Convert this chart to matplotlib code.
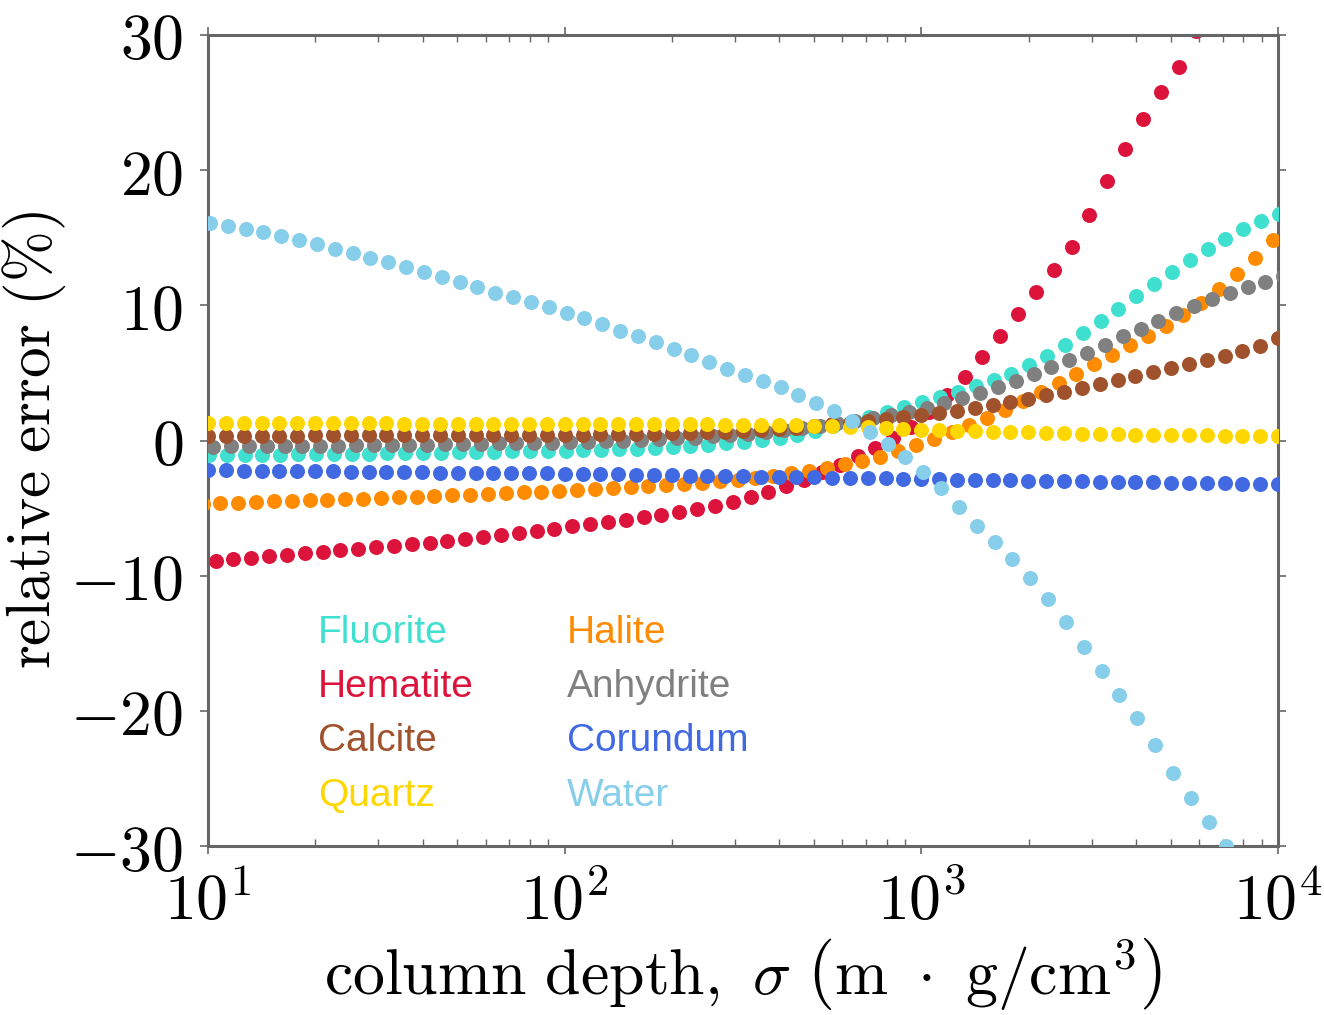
import numpy as np
import matplotlib
matplotlib.use("Agg")
import matplotlib.pyplot as plt
from matplotlib.ticker import FixedLocator, FuncFormatter, LogLocator, NullFormatter

plt.rcParams['mathtext.fontset'] = 'cm'

# Minerals in legend order, with their colours
minerals = ["Fluorite", "Hematite", "Calcite", "Quartz",
            "Halite", "Anhydrite", "Corundum", "Water"]
colors = ["turquoise", "crimson", "sienna", "gold",
          "darkorange", "gray", "royalblue", "skyblue"]

# Column depth of the first sample of each mineral (m g/cm^3);
# samples are spaced evenly in log10(sigma)
first_sigma = [10.06, 10.50, 10.0, 10.0, 9.66, 10.35, 10.0, 10.12]
log_step = 0.05

# Relative error (%) of each mineral along its column-depth samples
fluorite = [-1.10, -1.09, -1.07, -1.06, -1.05, -1.03, -1.02, -1.00, -0.99, -0.97,
            -0.95, -0.93, -0.91, -0.89, -0.88, -0.86, -0.84, -0.81, -0.79, -0.77,
            -0.75, -0.72, -0.68, -0.64, -0.60, -0.54, -0.48, -0.41, -0.32, -0.22,
            -0.10, 0.05, 0.20, 0.42, 0.70, 1.05, 1.40, 1.75, 2.10, 2.45,
            2.82, 3.20, 3.60, 4.00, 4.45, 4.95, 5.55, 6.28, 7.10, 7.95,
            8.85, 9.75, 10.68, 11.60, 12.50, 13.35, 14.18, 14.93, 15.62, 16.25, 16.75]
hematite = [-8.88, -8.78, -8.67, -8.56, -8.46, -8.35, -8.24, -8.13, -8.02, -7.91,
            -7.80, -7.68, -7.55, -7.42, -7.29, -7.15, -7.00, -6.85, -6.69, -6.52,
            -6.35, -6.18, -6.02, -5.86, -5.69, -5.51, -5.30, -5.08, -4.82, -4.52,
            -4.18, -3.80, -3.37, -2.92, -2.35, -1.78, -1.18, -0.52, 0.18, 1.00,
            2.10, 3.40, 4.70, 6.15, 7.75, 9.35, 10.95, 12.60, 14.35, 16.70,
            19.20, 21.60, 23.80, 25.80, 27.60, 30.30]
calcite = [0.35, 0.35, 0.35, 0.36, 0.36, 0.36, 0.37, 0.37, 0.37, 0.38,
           0.38, 0.38, 0.39, 0.39, 0.40, 0.40, 0.41, 0.41, 0.42, 0.42,
           0.43, 0.44, 0.45, 0.46, 0.48, 0.50, 0.53, 0.56, 0.60, 0.65,
           0.70, 0.77, 0.86, 0.96, 1.07, 1.19, 1.32, 1.46, 1.60, 1.75,
           1.90, 2.05, 2.20, 2.42, 2.65, 2.88, 3.10, 3.35, 3.60, 3.88,
           4.15, 4.45, 4.75, 5.05, 5.35, 5.65, 5.95, 6.25, 6.60, 7.00, 7.55]
quartz = [1.27, 1.27, 1.27, 1.27, 1.26, 1.26, 1.26, 1.26, 1.26, 1.26,
          1.26, 1.25, 1.25, 1.25, 1.25, 1.25, 1.25, 1.24, 1.24, 1.24,
          1.24, 1.24, 1.23, 1.23, 1.23, 1.22, 1.21, 1.20, 1.19, 1.18,
          1.17, 1.15, 1.14, 1.12, 1.09, 1.05, 1.01, 0.97, 0.92, 0.86,
          0.80, 0.76, 0.72, 0.69, 0.66, 0.63, 0.60, 0.56, 0.53, 0.50,
          0.47, 0.45, 0.43, 0.41, 0.39, 0.38, 0.37, 0.36, 0.35, 0.34, 0.33]
halite = [-4.68, -4.63, -4.59, -4.55, -4.51, -4.47, -4.43, -4.39, -4.35, -4.30,
          -4.25, -4.20, -4.15, -4.10, -4.05, -4.00, -3.95, -3.90, -3.84, -3.78,
          -3.72, -3.66, -3.60, -3.53, -3.46, -3.39, -3.31, -3.22, -3.12, -3.01,
          -2.89, -2.75, -2.60, -2.42, -2.22, -2.00, -1.75, -1.48, -1.20, -0.78,
          -0.33, 0.12, 0.60, 1.15, 1.65, 2.25, 2.90, 3.60, 4.25, 4.95,
          5.65, 6.35, 7.05, 7.75, 8.50, 9.30, 10.20, 11.20, 12.30, 13.50, 14.80]
anhydrite = [-0.45, -0.44, -0.43, -0.42, -0.41, -0.40, -0.39, -0.37, -0.36, -0.34,
             -0.33, -0.31, -0.30, -0.28, -0.27, -0.25, -0.22, -0.20, -0.17, -0.15,
             -0.12, -0.09, -0.05, -0.01, 0.03, 0.09, 0.15, 0.22, 0.30, 0.40,
             0.50, 0.62, 0.76, 0.92, 1.08, 1.26, 1.45, 1.66, 1.88, 2.12,
             2.40, 2.75, 3.12, 3.52, 3.95, 4.42, 4.92, 5.42, 5.95, 6.50,
             7.10, 7.70, 8.28, 8.86, 9.42, 9.97, 10.47, 10.93, 11.35, 11.75, 12.15]
corundum = [-2.20, -2.21, -2.23, -2.24, -2.26, -2.27, -2.28, -2.29, -2.31, -2.32,
            -2.33, -2.34, -2.36, -2.37, -2.38, -2.40, -2.41, -2.42, -2.43, -2.44,
            -2.45, -2.47, -2.49, -2.51, -2.53, -2.55, -2.57, -2.59, -2.61, -2.63,
            -2.65, -2.67, -2.68, -2.70, -2.72, -2.74, -2.77, -2.78, -2.80, -2.83,
            -2.85, -2.87, -2.89, -2.91, -2.93, -2.95, -2.97, -2.99, -3.00, -3.02,
            -3.05, -3.07, -3.08, -3.10, -3.12, -3.13, -3.15, -3.17, -3.19, -3.21, -3.23]
water = [16.11, 15.89, 15.62, 15.40, 15.13, 14.83, 14.51, 14.16, 13.84, 13.52,
         13.18, 12.81, 12.46, 12.12, 11.75, 11.33, 10.93, 10.59, 10.27, 9.90,
         9.45, 9.04, 8.59, 8.12, 7.73, 7.26, 6.77, 6.32, 5.78, 5.29,
         4.84, 4.40, 3.93, 3.37, 2.80, 2.18, 1.45, 0.65, -0.27, -1.25,
         -2.30, -3.50, -4.90, -6.30, -7.50, -8.75, -10.15, -11.75, -13.45, -15.30,
         -17.05, -18.80, -20.55, -22.50, -24.60, -26.45, -28.20, -30.00]

errors = [fluorite, hematite, calcite, quartz, halite, anhydrite, corundum, water]

# Stacking order of the dotted curves, bottom to top
draw_order = ["Hematite", "Halite", "Fluorite", "Anhydrite",
              "Calcite", "Corundum", "Quartz", "Water"]

y_ticks = [-30, -20, -10, 0, 10, 20, 30]
x_ticks = [1e1, 1e2, 1e3, 1e4]

fig = plt.figure(figsize=(13.24, 10.15), dpi=100)
ax = fig.add_axes([208 / 1324, 1 - 846 / 1015, 1070 / 1324, 811 / 1015])

handles = {}
for z, name in enumerate(draw_order):
    i = minerals.index(name)
    vals = np.asarray(errors[i])
    sigma = first_sigma[i] * 10 ** (log_step * np.arange(len(vals)))
    line, = ax.plot(sigma, vals, linestyle="none", marker="o", markersize=10.8,
                    markeredgewidth=0, color=colors[i], label=name, zorder=2 + z)
    handles[name] = line

ax.set_xscale("log")
ax.set_xlim(1e1, 1e4)
ax.set_ylim(-30, 30)

ax.xaxis.set_major_locator(FixedLocator(x_ticks))
ax.xaxis.set_major_formatter(FuncFormatter(lambda v, p: r"$10^{%d}$" % round(np.log10(v))))
ax.xaxis.set_minor_locator(LogLocator(base=10, subs=np.arange(2, 10)))
ax.xaxis.set_minor_formatter(NullFormatter())
ax.yaxis.set_major_locator(FixedLocator(y_ticks))
ax.yaxis.set_major_formatter(FuncFormatter(lambda v, p: r"$%d$" % v))

spine_color = "#666666"
for s in ax.spines.values():
    s.set_color(spine_color)
    s.set_linewidth(2.2)

ax.tick_params(which="major", direction="out", length=6, width=1.2,
               color=spine_color, labelsize=46, pad=12,
               top=True, right=True, bottom=True, left=True)
ax.tick_params(which="minor", direction="in", length=5, width=1.0,
               color=spine_color, top=True, bottom=True)

ax.set_xlabel(r"$\mathrm{column\ depth,}\ \sigma\ \left(\mathrm{m}\ \cdot\ \mathrm{g/cm}^{3}\right)$",
              fontsize=46, labelpad=2)
ax.set_ylabel(r"$\mathrm{relative\ error\ (\%)}$", fontsize=44,
              verticalalignment="center")
ax.yaxis.set_label_coords(-0.163, 0.5)

leg = ax.legend([handles[m] for m in minerals], minerals, loc="upper left",
                bbox_to_anchor=(0.1028, 0.285), ncol=2, frameon=False,
                handlelength=0, handletextpad=0, markerscale=0,
                labelcolor="markerfacecolor",
                prop={"family": "Liberation Sans", "size": 28},
                columnspacing=2.4, labelspacing=0.47,
                borderpad=0, borderaxespad=0)

fig.savefig("out.png", dpi=100)
